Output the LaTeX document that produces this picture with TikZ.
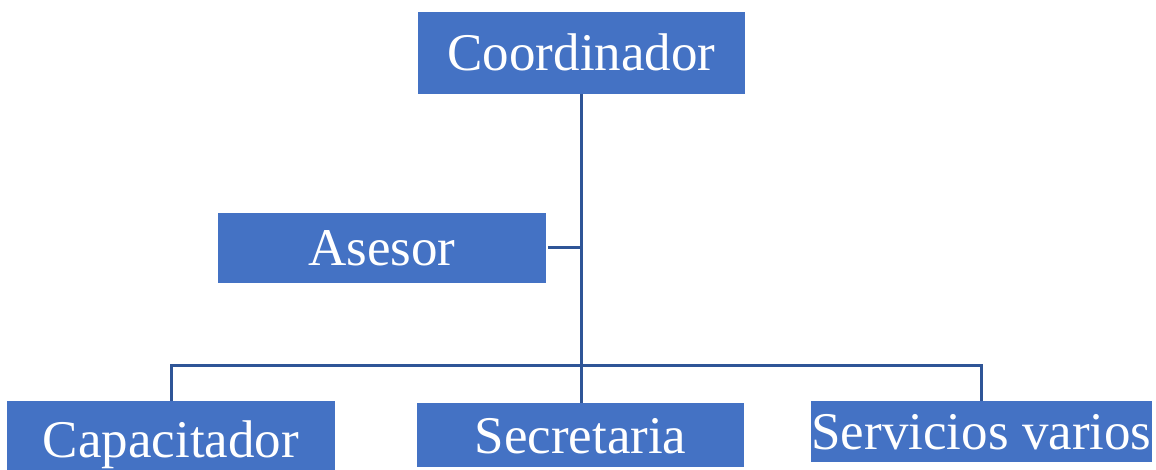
\documentclass[tikz,border=0pt]{standalone}
\usepackage{fontspec}
\setmainfont{Liberation Serif}
\definecolor{boxblue}{HTML}{4472C4}
\definecolor{lineblue}{HTML}{2F5597}

\begin{document}
\begin{tikzpicture}[x=0.75pt,y=-0.75pt,
	unit/.style={fill=boxblue,text=white,inner sep=0pt,
		text height=27pt,text depth=0pt,
		font=\fontsize{39.75}{48}\selectfont},
	link/.style={draw=lineblue,line width=2.25pt}]
	\useasboundingbox (0,0) rectangle (1156,470);
	% Head
	\node[unit,minimum width=245.25pt,minimum height=61.5pt] (coord) at (581.5,53) {Coordinador};
	\node[unit,minimum width=246pt,minimum height=52.5pt] (asesor) at (382,248) {Asesor};
	% Staff
	\node[unit,minimum width=246pt,minimum height=57pt] (capac) at (171,439) {Capacitador};
	\node[unit,minimum width=245.25pt,minimum height=48pt] (secre) at (580.5,435) {Secretaria};
	\node[unit,minimum width=255.75pt,minimum height=45.75pt] (serv) at (981.5,431.5) {Servicios varios};
	% Connectors
	\coordinate (bus) at (582,365);
	\draw[link] (coord.south) -- (coord.south |- secre.north);
	\draw[link,shorten <=1.5pt] (asesor.east) -- (asesor.east -| coord.south);
	\draw[link] (capac.north) |- (bus) -| (serv.north);
\end{tikzpicture}
\end{document}
